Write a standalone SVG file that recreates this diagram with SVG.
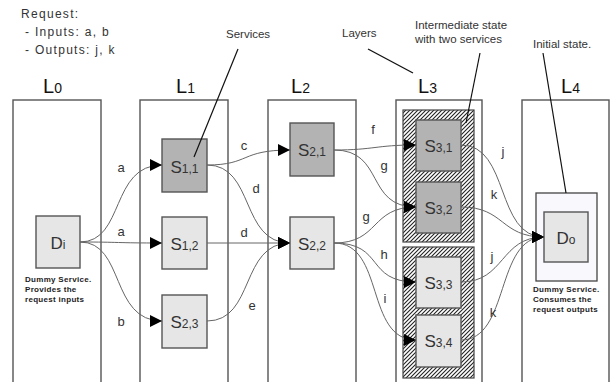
<svg xmlns="http://www.w3.org/2000/svg" width="611" height="382" viewBox="0 0 611 382">
<defs>
<marker id="arr" markerUnits="userSpaceOnUse" markerWidth="12" markerHeight="12" refX="12" refY="6" orient="auto">
<path d="M0,0 L12,6 L0,12 z" fill="#000"/>
</marker>
<pattern id="hatch" patternUnits="userSpaceOnUse" width="4" height="4">
<rect width="4" height="4" fill="#fff"/>
<path d="M-1,1 l2,-2 M0,4 l4,-4 M3,5 l2,-2" stroke="#222" stroke-width="1.1"/>
</pattern>
<style>
.layer{fill:#fff;stroke:#555;stroke-width:1.4}
.dark{fill:#b3b3b3;stroke:#555;stroke-width:1.4}
.light{fill:#e6e6e6;stroke:#555;stroke-width:1.4}
.hatchbox{fill:url(#hatch);stroke:#444;stroke-width:1.2}
.conn{fill:none;stroke:#666;stroke-width:1;marker-end:url(#arr)}
.plain{fill:none;stroke:#666;stroke-width:1}
.ptr{stroke:#111;stroke-width:1.2;fill:none}
text{font-family:"Liberation Sans",Arial,sans-serif;fill:#333}
.big{font-size:17px}
.sub{font-size:12px}
.lb{font-size:20px;fill:#111}
.lsub{font-size:14px;fill:#111}
.el{font-size:13px;text-anchor:middle}
.note{font-size:11.5px}
.req{font-size:12px;letter-spacing:1.3px}
.dummy{font-size:8px;font-weight:bold;fill:#222;letter-spacing:0.3px}
</style>
</defs>

<g id="top-text">
<text class="req" x="21" y="18">Request:</text>
<text class="req" x="25" y="36">- Inputs: a, b</text>
<text class="req" x="25" y="54">- Outputs: j, k</text>
</g>

<g id="layer-labels">
<text x="43" y="93"><tspan class="lb">L</tspan><tspan class="lsub">0</tspan></text>
<text x="176" y="93"><tspan class="lb">L</tspan><tspan class="lsub">1</tspan></text>
<text x="291" y="93"><tspan class="lb">L</tspan><tspan class="lsub">2</tspan></text>
<text x="418" y="93"><tspan class="lb">L</tspan><tspan class="lsub">3</tspan></text>
<text x="561" y="93"><tspan class="lb">L</tspan><tspan class="lsub">4</tspan></text>
</g>

<g id="L0"><rect class="layer" x="13" y="100" width="88" height="290"/></g>
<g id="L1"><rect class="layer" x="140" y="100" width="88" height="290"/></g>
<g id="L2"><rect class="layer" x="268" y="100" width="88" height="290"/></g>
<g id="L3"><rect class="layer" x="396" y="100" width="86" height="290"/></g>
<g id="L4"><rect class="layer" x="522" y="100" width="87" height="290"/></g>

<g id="state-upper"><rect class="hatchbox" x="403" y="110" width="71" height="132"/></g>
<g id="state-lower"><rect class="hatchbox" x="403" y="247" width="71" height="131"/></g>

<g id="Di">
<rect class="light" x="36" y="216" width="44" height="52"/>
<text x="58" y="249" text-anchor="middle"><tspan class="big">D</tspan><tspan class="sub">i</tspan></text>
<text class="dummy" x="25" y="282">Dummy Service.</text>
<text class="dummy" x="25" y="292">Provides the</text>
<text class="dummy" x="25" y="302">request inputs</text>
</g>

<g id="S11">
<rect class="dark" x="162" y="139" width="45" height="53"/>
<text x="184.5" y="173" text-anchor="middle"><tspan class="big">S</tspan><tspan class="sub">1,1</tspan></text>
</g>
<g id="S12">
<rect class="light" x="162" y="217" width="45" height="52"/>
<text x="184.5" y="250" text-anchor="middle"><tspan class="big">S</tspan><tspan class="sub">1,2</tspan></text>
</g>
<g id="S23">
<rect class="light" x="162" y="295" width="45" height="53"/>
<text x="184.5" y="328" text-anchor="middle"><tspan class="big">S</tspan><tspan class="sub">2,3</tspan></text>
</g>
<g id="S21">
<rect class="dark" x="290" y="123" width="44" height="53"/>
<text x="312" y="156" text-anchor="middle"><tspan class="big">S</tspan><tspan class="sub">2,1</tspan></text>
</g>
<g id="S22">
<rect class="light" x="290" y="217" width="44" height="52"/>
<text x="312" y="250" text-anchor="middle"><tspan class="big">S</tspan><tspan class="sub">2,2</tspan></text>
</g>
<g id="S31">
<rect class="dark" x="416" y="120" width="45" height="51"/>
<text x="438.5" y="152" text-anchor="middle"><tspan class="big">S</tspan><tspan class="sub">3,1</tspan></text>
</g>
<g id="S32">
<rect class="dark" x="416" y="182" width="45" height="51"/>
<text x="438.5" y="214" text-anchor="middle"><tspan class="big">S</tspan><tspan class="sub">3,2</tspan></text>
</g>
<g id="S33">
<rect class="light" x="416" y="257" width="45" height="51"/>
<text x="438.5" y="289" text-anchor="middle"><tspan class="big">S</tspan><tspan class="sub">3,3</tspan></text>
</g>
<g id="S34">
<rect class="light" x="416" y="315" width="45" height="52"/>
<text x="438.5" y="347" text-anchor="middle"><tspan class="big">S</tspan><tspan class="sub">3,4</tspan></text>
</g>

<g id="Do">
<rect x="536" y="193" width="61" height="88" fill="#f8f8fd" stroke="#444" stroke-width="1.3"/>
<rect class="light" x="544" y="212" width="44" height="50"/>
<text x="566" y="244" text-anchor="middle"><tspan class="big">D</tspan><tspan class="sub">o</tspan></text>
<text class="dummy" x="533" y="292">Dummy Service.</text>
<text class="dummy" x="533" y="302">Consumes the</text>
<text class="dummy" x="533" y="312">request outputs</text>
</g>

<g id="connectors">
<path class="conn" d="M80,242 C125,242 110,165 162,165"/>
<path class="conn" d="M80,242 C120,242 115,243 162,243"/>
<path class="conn" d="M80,242 C125,242 110,321 162,321"/>
<path class="conn" d="M207,165 C250,165 240,150 290,150"/>
<path class="conn" d="M207,165 C255,165 240,243 290,243"/>
<path class="conn" d="M207,243 L290,243"/>
<path class="conn" d="M207,321 C255,321 240,243 290,243"/>
<path class="conn" d="M334,150 C375,150 375,145 416,145"/>
<path class="conn" d="M334,150 C385,150 365,207 416,207"/>
<path class="conn" d="M334,243 C380,243 370,207 416,207"/>
<path class="conn" d="M334,243 C385,243 365,282 416,282"/>
<path class="conn" d="M334,243 C385,243 365,340 416,340"/>
<path class="conn" d="M461,145 C510,145 495,237 544,237"/>
<path class="conn" d="M461,207 C505,207 500,237 544,237"/>
<path class="conn" d="M461,282 C505,282 500,237 544,237"/>
<path class="conn" d="M461,340 C510,340 495,237 544,237"/>
</g>

<g id="connector-labels">
<text class="el" x="121" y="172">a</text>
<text class="el" x="121" y="236">a</text>
<text class="el" x="121" y="326">b</text>
<text class="el" x="244" y="150">c</text>
<text class="el" x="256" y="193">d</text>
<text class="el" x="244" y="237">d</text>
<text class="el" x="252" y="310">e</text>
<text class="el" x="373" y="134">f</text>
<text class="el" x="384" y="170">g</text>
<text class="el" x="366" y="221">g</text>
<text class="el" x="384" y="259">h</text>
<text class="el" x="385" y="303">i</text>
<text class="el" x="503" y="156">j</text>
<text class="el" x="494" y="199">k</text>
<text class="el" x="492" y="261">j</text>
<text class="el" x="493" y="317">k</text>
</g>

<g id="annotations">
<text class="note" x="226" y="38">Services</text>
<line class="ptr" x1="238" y1="49" x2="194" y2="157"/>
<text class="note" x="342" y="37">Layers</text>
<line class="ptr" x1="368" y1="49" x2="413" y2="73"/>
<text class="note" x="415" y="29">Intermediate state</text>
<text class="note" x="415" y="43">with two services</text>
<line class="ptr" x1="480" y1="53" x2="466" y2="123"/>
<text class="note" x="533" y="48">Initial state.</text>
<line class="ptr" x1="543" y1="53" x2="566" y2="193"/>
</g>
</svg>
